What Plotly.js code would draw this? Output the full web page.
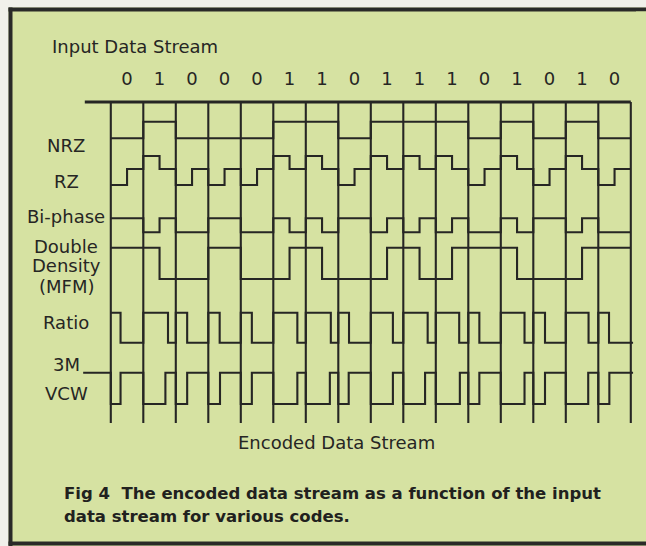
<!DOCTYPE html>
<html>
<head>
<meta charset="utf-8">
<script src="https://cdn.plot.ly/plotly-3.0.1.min.js"></script>
<style>
  html, body { margin: 0; padding: 0; background: #d6e2a2; overflow: hidden; }
  #chart { width: 646px; height: 546px; }
</style>
</head>
<body>
<div id="chart"></div>
<script>
// ---------------- data ----------------
const inputBits = [0, 1, 0, 0, 0, 1, 1, 0, 1, 1, 1, 0, 1, 0, 1, 0];

// NRZ: level per bit (1 = high, 0 = low)
const nrzLevels = [0, 1, 0, 0, 0, 1, 1, 0, 1, 1, 1, 0, 1, 0, 1, 0];

// RZ (bipolar, return to zero): level per half bit (+1 / 0 / -1)
const rzHalfLevels = [-1, 0, 1, 0, -1, 0, -1, 0, -1, 0, 1, 0, 1, 0, -1, 0,
                       1, 0, 1, 0, 1, 0, -1, 0, 1, 0, -1, 0, 1, 0, -1, 0];

// Bi-phase: level per half bit
const biphaseHalfLevels = [1, 1, 0, 1, 0, 0, 1, 1, 0, 0, 1, 0, 1, 0, 1, 1,
                           0, 1, 0, 1, 0, 1, 0, 0, 1, 0, 1, 1, 0, 1, 0, 0];

// Double Density (MFM): level per half bit
const mfmHalfLevels = [1, 1, 1, 0, 0, 0, 1, 1, 0, 0, 0, 1, 1, 0, 0, 0,
                       0, 1, 1, 0, 0, 1, 1, 1, 1, 0, 0, 0, 0, 1, 1, 1];

// Ratio: fraction of each bit cell spent high
const ratioHighFraction = [0.30, 0.76, 0.35, 0.35, 0.34, 0.74, 0.77, 0.33,
                           0.68, 0.75, 0.72, 0.34, 0.73, 0.36, 0.70, 0.33];

// 3M VCW: fraction of each bit cell spent low
const vcwLowFraction = [0.30, 0.68, 0.35, 0.36, 0.34, 0.74, 0.74, 0.32,
                        0.68, 0.67, 0.74, 0.34, 0.73, 0.36, 0.69, 0.34];

// Row labels (one entry per text line)
const labelLines = ["NRZ", "RZ", "Bi-phase", "Double", "Density", "(MFM)", "Ratio", "3M", "VCW"];

// ---------------- layout constants ----------------
const W = 646, H = 546;
const GRID_X0 = 110.8, CELL = 32.5;           // pixel position of bit 0 and cell width
const xRange = [-GRID_X0 / CELL, (W - GRID_X0) / CELL];
const INK = '#262624';
const LINE_W = 2.1;
const FONT = 'DejaVu Sans, Liberation Sans, Arial, sans-serif';

const rows = {
  nrz:     { hi: 121.7, lo: 138.3 },
  rz:      { hi: 156.0, mid: 169.0, lo: 185.0 },
  biphase: { hi: 218.3, lo: 232.3 },
  mfm:     { hi: 247.7, lo: 279.0 },
  ratio:   { hi: 312.7, lo: 342.7 },
  vcw:     { hi: 372.7, lo: 404.0 }
};
const labelY = [146, 181.5, 216.7, 246.5, 265.7, 286.5, 322.3, 364, 393.3];
const labelX = 66;
const nBits = inputBits.length;

function stepTrace(xs, ys) {
  return { type: 'scatter', mode: 'lines', x: xs, y: ys,
           line: { shape: 'hv', color: INK, width: LINE_W },
           hoverinfo: 'skip', showlegend: false, cliponaxis: false };
}

function halfBitTrace(levels, map) {
  const xs = [], ys = [];
  levels.forEach((v, i) => { xs.push(i / 2); ys.push(map(v)); });
  xs.push(nBits); ys.push(map(levels[levels.length - 1]));
  return stepTrace(xs, ys);
}

const traces = [];

// vertical bit-cell grid
{
  const gx = [], gy = [];
  for (let k = 0; k <= nBits; k++) { gx.push(k, k, null); gy.push(102, 423, null); }
  traces.push({ type: 'scatter', mode: 'lines', x: gx, y: gy,
                line: { color: INK, width: LINE_W }, hoverinfo: 'skip', showlegend: false });
}

// NRZ
{
  const xs = [], ys = [];
  nrzLevels.forEach((v, i) => { xs.push(i); ys.push(v ? rows.nrz.hi : rows.nrz.lo); });
  xs.push(nBits); ys.push(nrzLevels[nBits - 1] ? rows.nrz.hi : rows.nrz.lo);
  traces.push(stepTrace(xs, ys));
}
// RZ
traces.push(halfBitTrace(rzHalfLevels, v => v > 0 ? rows.rz.hi : (v < 0 ? rows.rz.lo : rows.rz.mid)));
// Bi-phase
traces.push(halfBitTrace(biphaseHalfLevels, v => v ? rows.biphase.hi : rows.biphase.lo));
// MFM
traces.push(halfBitTrace(mfmHalfLevels, v => v ? rows.mfm.hi : rows.mfm.lo));
// Ratio
{
  const xs = [], ys = [];
  ratioHighFraction.forEach((f, k) => {
    xs.push(k, k + f); ys.push(rows.ratio.hi, rows.ratio.lo);
  });
  xs.push(nBits + 0.07); ys.push(rows.ratio.lo);
  traces.push(stepTrace(xs, ys));
}
// 3M VCW (with lead-in line under the "3M" label)
{
  const xs = [-0.85], ys = [rows.vcw.hi];
  vcwLowFraction.forEach((f, k) => {
    xs.push(k, k + f); ys.push(rows.vcw.lo, rows.vcw.hi);
  });
  xs.push(nBits + 0.07); ys.push(rows.vcw.hi);
  traces.push(stepTrace(xs, ys));
}

// input data stream digits
traces.push({
  type: 'scatter', mode: 'text',
  x: inputBits.map((b, k) => k + 0.5), y: inputBits.map(() => 80),
  text: inputBits.map(String),
  textfont: { family: FONT, size: 18, color: INK },
  textposition: 'middle center', hoverinfo: 'skip', showlegend: false, cliponaxis: false
});

const px = x => x / W, py = y => 1 - y / H;

const annotations = labelLines.map((t, i) => ({
  xref: 'paper', yref: 'paper', x: px(labelX), y: py(labelY[i]),
  xanchor: 'center', yanchor: 'middle', showarrow: false, text: t,
  font: { family: FONT, size: 18, color: INK }
}));
annotations.push(
  { xref: 'paper', yref: 'paper', x: px(50), y: py(46.5), xanchor: 'left', yanchor: 'middle',
    showarrow: false, text: 'Input Data Stream', font: { family: FONT, size: 18, color: INK } },
  { xref: 'paper', yref: 'paper', x: px(336), y: py(442), xanchor: 'center', yanchor: 'middle',
    showarrow: false, text: 'Encoded Data Stream', font: { family: FONT, size: 18, color: INK } },
  { xref: 'paper', yref: 'paper', x: px(62), y: py(493), xanchor: 'left', yanchor: 'middle',
    showarrow: false, text: '<b>Fig 4  The encoded data stream as a function of the input</b>',
    font: { family: FONT, size: 16.5, color: '#21211e' } },
  { xref: 'paper', yref: 'paper', x: px(62), y: py(516), xanchor: 'left', yanchor: 'middle',
    showarrow: false, text: '<b>data stream for various codes.</b>',
    font: { family: FONT, size: 16.5, color: '#21211e' } }
);

const BORDER = '#2a2a28';
const PANEL = '#d6e2a2';
const MARGIN_BG = '#f1f0ea';
const shapes = [
  // off-white margin strips outside the panel (left and top)
  { type: 'rect', xref: 'paper', yref: 'paper', layer: 'below',
    x0: 0, x1: px(8.5), y0: 0, y1: 1, fillcolor: MARGIN_BG, line: { width: 0 } },
  { type: 'rect', xref: 'paper', yref: 'paper', layer: 'below',
    x0: 0, x1: 1, y0: py(7.5), y1: 1, fillcolor: MARGIN_BG, line: { width: 0 } },
  // panel border: top, left, bottom (panel runs off the right edge)
  { type: 'line', xref: 'paper', yref: 'paper', layer: 'below',
    x0: px(8.5), x1: 1, y0: py(9.5), y1: py(9.5), line: { color: BORDER, width: 4 } },
  { type: 'line', xref: 'paper', yref: 'paper', layer: 'below',
    x0: px(10.5), x1: px(10.5), y0: py(7.5), y1: 0, line: { color: BORDER, width: 4 } },
  { type: 'line', xref: 'paper', yref: 'paper', layer: 'below',
    x0: px(8.5), x1: 1, y0: py(543.5), y1: py(543.5), line: { color: BORDER, width: 4 } },
  // top rule of the grid
  { type: 'line', xref: 'x', yref: 'y', layer: 'above',
    x0: -0.8, x1: nBits, y0: 102, y1: 102, line: { color: INK, width: 3 } },
  // keep the right edge open (panel continues past the page)
  { type: 'rect', xref: 'paper', yref: 'paper', layer: 'above',
    x0: px(636), x1: 1, y0: py(541), y1: py(11.6), fillcolor: PANEL, line: { width: 0 } }
];

const layout = {
  width: W, height: H,
  margin: { l: 0, r: 0, t: 0, b: 0, pad: 0 },
  paper_bgcolor: PANEL, plot_bgcolor: 'rgba(0,0,0,0)',
  xaxis: { range: xRange, visible: false, fixedrange: true },
  yaxis: { range: [H, 0], visible: false, fixedrange: true },
  showlegend: false, hovermode: false,
  shapes: shapes, annotations: annotations
};

Plotly.newPlot('chart', traces, layout, { staticPlot: true, displayModeBar: false });
</script>
</body>
</html>
